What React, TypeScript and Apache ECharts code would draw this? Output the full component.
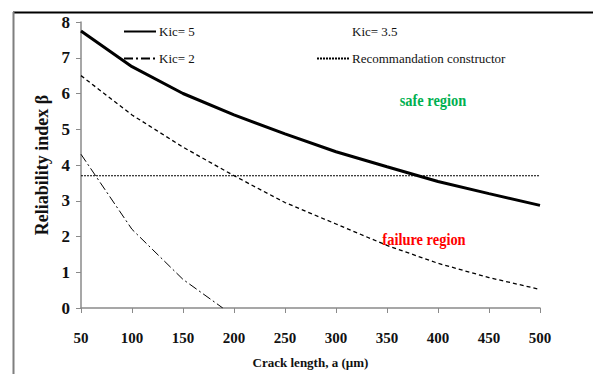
import React, { useEffect, useRef } from "react";
import * as echarts from "echarts";

const crackLengths = [50, 100, 150, 200, 250, 300, 350, 400, 450, 500];
const kic5Values = [7.75, 6.75, 6.0, 5.4, 4.87, 4.37, 3.95, 3.54, 3.2, 2.87];
const kic35Values = [6.5, 5.4, 4.5, 3.7, 2.95, 2.35, 1.75, 1.25, 0.85, 0.52];
const kic2Lengths = [50, 100, 150, 189];
const kic2Values = [4.3, 2.2, 0.8, 0];
const recoLengths = [50, 500];
const recoValues = [3.7, 3.7];
const yTicks = [0, 1, 2, 3, 4, 5, 6, 7, 8];

const FONT = "Liberation Serif";

export default function App() {
  const ref = useRef<HTMLDivElement>(null);
  useEffect(() => {
    if (!ref.current) return;
    const chart = echarts.init(ref.current, null, { renderer: "svg" });
    const pair = (xs: number[], ys: number[]) => xs.map((x, i) => [x, ys[i]]);
    const legendBase = {
      orient: "horizontal" as const,
      padding: 0,
      itemWidth: 32,
      itemHeight: 14,
      itemGap: 0,
      selectedMode: false,
      itemStyle: { opacity: 0 },
      textStyle: { fontFamily: FONT, fontSize: 13, color: "#111", padding: [0, 0, 0, -2] },
    };
    chart.setOption({
      animation: false,
      backgroundColor: "#fff",
      textStyle: { fontFamily: FONT },
      grid: { left: 81, right: 53, top: 22, bottom: 65 },
      legend: [
        { ...legendBase, left: 123, top: 25, data: ["Kic= 5"] },
        { ...legendBase, left: 123, top: 52, data: ["Kic= 2"] },
        {
          ...legendBase,
          left: 316,
          top: 25,
          data: [{ name: "Kic= 3.5", lineStyle: { opacity: 0 }, itemStyle: { opacity: 0 } }],
        },
        { ...legendBase, left: 316, top: 52, data: ["Recommandation constructor"] },
      ],
      xAxis: {
        type: "value",
        min: 50,
        max: 500,
        interval: 50,
        name: "Crack length, a (µm)",
        nameLocation: "middle",
        nameGap: 48,
        nameTextStyle: { fontFamily: FONT, fontWeight: "bold", fontSize: 13, color: "#111" },
        axisLine: { lineStyle: { color: "#8a8a8a", width: 1.5 } },
        axisTick: { show: true, length: 5, lineStyle: { color: "#8a8a8a" } },
        axisLabel: { fontFamily: FONT, fontWeight: "bold", fontSize: 15, color: "#111", margin: 22 },
        splitLine: { show: false },
      },
      yAxis: {
        type: "value",
        min: 0,
        max: 8,
        interval: 1,
        name: "Reliability index β",
        nameLocation: "middle",
        nameGap: 26,
        nameRotate: 90,
        nameTextStyle: { fontFamily: FONT, fontWeight: "bold", fontSize: 18, color: "#111" },
        axisLine: { show: true, lineStyle: { color: "#8a8a8a", width: 1.5 } },
        axisTick: { show: true, length: 5, lineStyle: { color: "#8a8a8a" } },
        axisLabel: {
          fontFamily: FONT,
          fontWeight: "bold",
          fontSize: 17,
          color: "#111",
          margin: 11,
          formatter: (v: number) => (yTicks.includes(v) ? String(v) : ""),
        },
        splitLine: { show: false },
      },
      series: [
        {
          name: "Kic= 5",
          type: "line",
          symbol: "none",
          data: pair(crackLengths, kic5Values),
          lineStyle: { color: "#000", width: 3 },
          itemStyle: { color: "#000" },
        },
        {
          name: "Kic= 3.5",
          type: "line",
          symbol: "none",
          data: pair(crackLengths, kic35Values),
          lineStyle: { color: "#000", width: 1.3, type: [4, 3] },
          itemStyle: { color: "#000" },
        },
        {
          name: "Kic= 2",
          type: "line",
          symbol: "none",
          data: pair(kic2Lengths, kic2Values),
          lineStyle: { color: "#000", width: 1, type: [9, 3, 2, 3] },
          itemStyle: { color: "#000" },
        },
        {
          name: "Recommandation constructor",
          type: "line",
          symbol: "none",
          data: pair(recoLengths, recoValues),
          lineStyle: { color: "#000", width: 1.2, type: [2, 1] },
          itemStyle: { color: "#000" },
        },
      ],
      graphic: [
        {
          type: "line",
          shape: { x1: 13, y1: 12.5, x2: 593, y2: 12.5 },
          style: { stroke: "#000", lineWidth: 2 },
        },
        {
          type: "line",
          shape: { x1: 13.5, y1: 12, x2: 13.5, y2: 374 },
          style: { stroke: "#7f7f7f", lineWidth: 2 },
        },
        {
          type: "text",
          x: 433,
          y: 100,
          scaleX: 0.85,
          style: {
            text: "safe region",
            fill: "#00B050",
            font: `bold 17px ${FONT}`,
            textAlign: "center",
            textVerticalAlign: "middle",
          },
        },
        {
          type: "text",
          x: 424,
          y: 239,
          scaleX: 0.85,
          style: {
            text: "failure region",
            fill: "#FF0000",
            font: `bold 17px ${FONT}`,
            textAlign: "center",
            textVerticalAlign: "middle",
          },
        },
      ],
    });
    return () => chart.dispose();
  }, []);
  return <div ref={ref} style={{ width: 593, height: 374, position: "absolute", left: 0, top: 0 }} />;
}
